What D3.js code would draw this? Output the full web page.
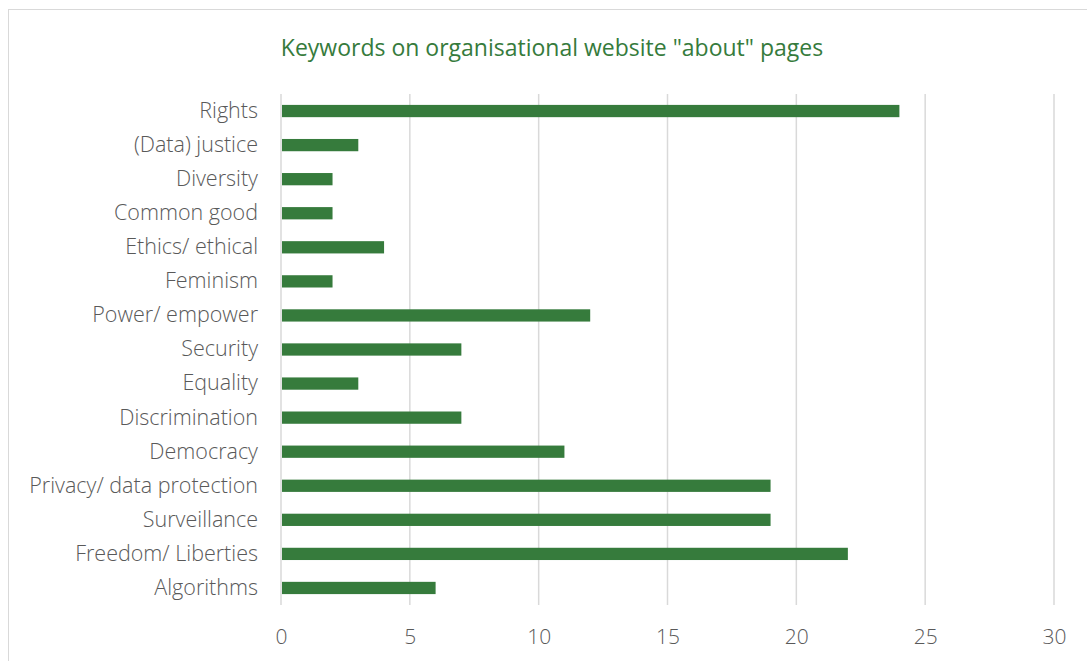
<!DOCTYPE html>
<html>
<head>
<meta charset="utf-8">
<script src="https://d3js.org/d3.v7.min.js"></script>
<style>
  body { margin: 0; background: #fff; }
  text { font-family: "Open Sans", "Noto Sans", sans-serif; }
</style>
</head>
<body>
<div id="container"></div>
<script>
// data
const categories = ["Rights", "(Data) justice", "Diversity", "Common good", "Ethics/ ethical",
  "Feminism", "Power/ empower", "Security", "Equality", "Discrimination", "Democracy",
  "Privacy/ data protection", "Surveillance", "Freedom/ Liberties", "Algorithms"];
const counts = [24, 3, 2, 2, 4, 2, 12, 7, 3, 7, 11, 19, 19, 22, 6];
const xTicks = [0, 5, 10, 15, 20, 25, 30];
const title = 'Keywords on organisational website "about" pages';

const width = 1087, height = 661;
const margin = { top: 94, right: 33, bottom: 56, left: 281 };
const green = "#367b3c";
const labelFont = '"Open Sans", sans-serif';

const svg = d3.select('#container').append('svg')
  .attr('width', width).attr('height', height);

// chart frame
svg.append('rect')
  .attr('x', 8.5).attr('y', 9.5)
  .attr('width', 1100).attr('height', 700)
  .attr('fill', 'none').attr('stroke', '#d9d9d9');

const x = d3.scaleLinear().domain([0, 30])
  .range([margin.left, width - margin.right]);
const y = d3.scaleBand().domain(categories)
  .range([margin.top, height - margin.bottom])
  .paddingInner(0.64).paddingOuter(0.32);

// gridlines
svg.append('g')
  .selectAll('line').data(xTicks).join('line')
  .attr('x1', d => x(d)).attr('x2', d => x(d))
  .attr('y1', margin.top).attr('y2', height - margin.bottom)
  .attr('stroke', '#d9d9d9').attr('stroke-width', 1.5);

// bars
svg.append('g')
  .selectAll('rect').data(counts).join('rect')
  .attr('x', x(0) + 1)
  .attr('y', (d, i) => y(categories[i]))
  .attr('width', d => x(d) - x(0) - 1)
  .attr('height', y.bandwidth())
  .attr('fill', green);

// x axis labels
const xAxis = d3.axisBottom(x).tickValues(xTicks).tickSize(0).tickPadding(24);
const gx = svg.append('g')
  .attr('transform', `translate(0,${height - margin.bottom})`)
  .call(xAxis);
gx.select('.domain').remove();
gx.selectAll('text')
  .attr('font-size', 21).attr('font-weight', 300)
  .attr('fill', '#595959').style('font-family', labelFont);

// category labels
const yAxis = d3.axisLeft(y).tickSize(0).tickPadding(23);
const gy = svg.append('g')
  .attr('transform', `translate(${margin.left},0)`)
  .call(yAxis);
gy.select('.domain').remove();
gy.selectAll('text')
  .attr('font-size', 21.5).attr('font-weight', 300)
  .attr('fill', '#595959').style('font-family', labelFont);

// title
svg.append('text')
  .attr('x', 552).attr('y', 56)
  .attr('text-anchor', 'middle')
  .attr('font-size', 23)
  .attr('fill', green)
  .style('font-family', labelFont)
  .text(title);
</script>
</body>
</html>
